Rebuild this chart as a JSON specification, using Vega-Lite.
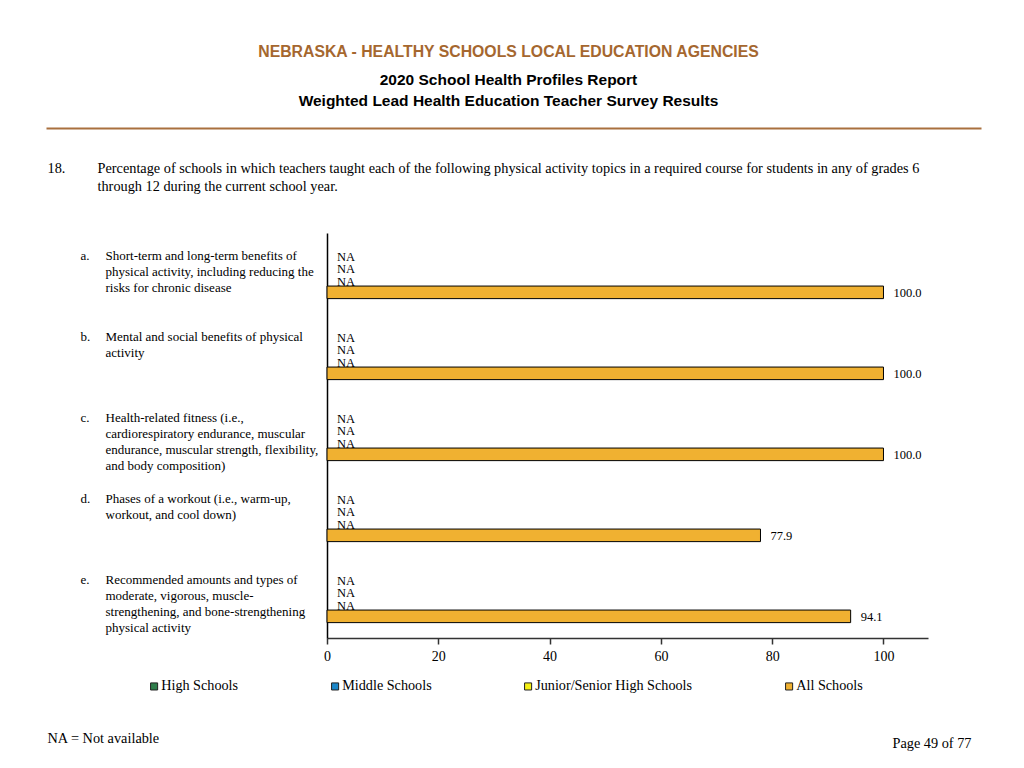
{
  "$schema": "https://vega.github.io/schema/vega-lite/v6.json",
  "autosize": "none",
  "width": 935,
  "height": 405,
  "padding": {"left": 46, "top": 233, "right": 43, "bottom": 130},
  "background": "white",
  "title": {
    "text": "NEBRASKA - HEALTHY SCHOOLS LOCAL EDUCATION AGENCIES",
    "subtitle": ["2020 School Health Profiles Report", "Weighted Lead Health Education Teacher Survey Results"],
    "anchor": "middle",
    "frame": "group",
    "dx": -5,
    "offset": 18,
    "font": "Liberation Sans",
    "fontSize": 15.8,
    "fontWeight": "bold",
    "color": "#A5672F",
    "subtitleFont": "Liberation Sans",
    "subtitleFontSize": 15.5,
    "subtitleFontWeight": "bold",
    "subtitleColor": "#000000",
    "subtitleLineHeight": 21,
    "subtitlePadding": 12
  },
  "data": {
    "values": [
      {"item": "a.", "group": "High Schools", "value": null, "label": "NA"},
      {"item": "a.", "group": "Middle Schools", "value": null, "label": "NA"},
      {"item": "a.", "group": "Junior/Senior High Schools", "value": null, "label": "NA"},
      {"item": "a.", "group": "All Schools", "value": 100.0, "label": "100.0"},
      {"item": "b.", "group": "High Schools", "value": null, "label": "NA"},
      {"item": "b.", "group": "Middle Schools", "value": null, "label": "NA"},
      {"item": "b.", "group": "Junior/Senior High Schools", "value": null, "label": "NA"},
      {"item": "b.", "group": "All Schools", "value": 100.0, "label": "100.0"},
      {"item": "c.", "group": "High Schools", "value": null, "label": "NA"},
      {"item": "c.", "group": "Middle Schools", "value": null, "label": "NA"},
      {"item": "c.", "group": "Junior/Senior High Schools", "value": null, "label": "NA"},
      {"item": "c.", "group": "All Schools", "value": 100.0, "label": "100.0"},
      {"item": "d.", "group": "High Schools", "value": null, "label": "NA"},
      {"item": "d.", "group": "Middle Schools", "value": null, "label": "NA"},
      {"item": "d.", "group": "Junior/Senior High Schools", "value": null, "label": "NA"},
      {"item": "d.", "group": "All Schools", "value": 77.9, "label": "77.9"},
      {"item": "e.", "group": "High Schools", "value": null, "label": "NA"},
      {"item": "e.", "group": "Middle Schools", "value": null, "label": "NA"},
      {"item": "e.", "group": "Junior/Senior High Schools", "value": null, "label": "NA"},
      {"item": "e.", "group": "All Schools", "value": 94.1, "label": "94.1"}
    ]
  },
  "layer": [
    {
      "layer": [
        {
          "mark": {"type": "bar", "stroke": "#000000", "strokeWidth": 1},
          "encoding": {
            "y": {
              "field": "item",
              "type": "nominal",
              "scale": {"paddingInner": 0.38, "paddingOuter": 0.19},
              "axis": {
                "orient": "left",
                "offset": -281,
                "domainColor": "#000000",
                "domainWidth": 1.5,
                "ticks": false,
                "tickSize": 0,
                "labelPadding": 222,
                "labelAlign": "left",
                "labelBaseline": "top",
                "labelOffset": -24,
                "labelFont": "Liberation Serif",
                "labelFontSize": 13,
                "labelColor": "#000000",
                "labelLineHeight": 16,
                "labelLimit": 0,
                "labelExpr": "datum.value == 'a.' ? ['Short-term and long-term benefits of', 'physical activity, including reducing the', 'risks for chronic disease'] : datum.value == 'b.' ? ['Mental and social benefits of physical', 'activity'] : datum.value == 'c.' ? ['Health-related fitness (i.e.,', 'cardiorespiratory endurance, muscular', 'endurance, muscular strength, flexibility,', 'and body composition)'] : datum.value == 'd.' ? ['Phases of a workout (i.e., warm-up,', 'workout, and cool down)'] : ['Recommended amounts and types of', 'moderate, vigorous, muscle-', 'strengthening, and bone-strengthening', 'physical activity']",
                "title": "Page 49 of 77",
                "titleX": 644,
                "titleY": 510,
                "titleAngle": 0,
                "titleAlign": "right",
                "titleBaseline": "middle",
                "titleFont": "Liberation Serif",
                "titleFontSize": 14.3,
                "titleFontWeight": "normal",
                "titleColor": "#000000"
              }
            },
            "yOffset": {
              "field": "group",
              "type": "nominal",
              "sort": ["High Schools", "Middle Schools", "Junior/Senior High Schools", "All Schools"],
              "scale": {"paddingInner": 0, "paddingOuter": 0}
            },
            "x": {
              "field": "value",
              "type": "quantitative",
              "scale": {"domain": [0, 108], "range": [281, 882], "nice": false, "zero": true},
              "axis": {
                "orient": "bottom",
                "values": [0, 20, 40, 60, 80, 100],
                "grid": false,
                "domainColor": "#333333",
                "domainWidth": 1.5,
                "tickColor": "#333333",
                "tickSize": 6,
                "tickWidth": 1.5,
                "labelFlush": false,
                "labelFont": "Liberation Serif",
                "labelFontSize": 14,
                "labelColor": "#000000",
                "labelPadding": 5,
                "title": "NA = Not available",
                "titleX": 1,
                "titleY": 100,
                "titleAlign": "left",
                "titleBaseline": "middle",
                "titleFont": "Liberation Serif",
                "titleFontSize": 14.3,
                "titleFontWeight": "normal",
                "titleColor": "#000000"
              }
            },
            "color": {
              "field": "group",
              "type": "nominal",
              "scale": {
                "domain": ["High Schools", "Middle Schools", "Junior/Senior High Schools", "All Schools"],
                "range": ["#2E7D4A", "#1B87C9", "#F5F014", "#F0B131"]
              },
              "legend": {
                "orient": "none",
                "legendX": 101,
                "legendY": 446,
                "direction": "horizontal",
                "columns": 4,
                "title": null,
                "symbolType": "square",
                "symbolSize": 50,
                "symbolStrokeColor": "#222222",
                "symbolStrokeWidth": 1,
                "labelFont": "Liberation Serif",
                "labelFontSize": 14.2,
                "labelColor": "#000000",
                "labelOffset": 0,
                "labelLimit": 0,
                "columnPadding": 89
              }
            }
          }
        },
        {
          "transform": [{"filter": "datum.value == null"}],
          "mark": {"type": "text", "align": "left", "baseline": "middle", "dx": 10, "dy": 2, "font": "Liberation Serif", "fontSize": 12.5, "color": "#000000"},
          "encoding": {
            "y": {
              "field": "item",
              "type": "nominal",
              "axis": {
                "orient": "left",
                "offset": -281,
                "domain": false,
                "ticks": false,
                "tickSize": 0,
                "labelPadding": 247,
                "labelAlign": "left",
                "labelBaseline": "top",
                "labelOffset": -24,
                "labelFont": "Liberation Serif",
                "labelFontSize": 13,
                "labelColor": "#000000",
                "title": "18.",
                "titleX": -280,
                "titleY": -71.5,
                "titleAngle": 0,
                "titleAlign": "left",
                "titleBaseline": "top",
                "titleFont": "Liberation Serif",
                "titleFontSize": 14.3,
                "titleFontWeight": "normal",
                "titleColor": "#000000"
              }
            },
            "yOffset": {
              "field": "group",
              "type": "nominal",
              "sort": ["High Schools", "Middle Schools", "Junior/Senior High Schools", "All Schools"]
            },
            "x": {"datum": 0},
            "text": {"field": "label"}
          }
        },
        {
          "transform": [{"filter": "datum.value != null"}],
          "mark": {"type": "text", "align": "left", "baseline": "middle", "dx": 10, "dy": 1, "font": "Liberation Serif", "fontSize": 12.5, "color": "#000000"},
          "encoding": {
            "y": {"field": "item", "type": "nominal", "axis": null},
            "yOffset": {
              "field": "group",
              "type": "nominal",
              "sort": ["High Schools", "Middle Schools", "Junior/Senior High Schools", "All Schools"]
            },
            "x": {"field": "value", "type": "quantitative"},
            "text": {"field": "label"}
          }
        }
      ],
      "resolve": {"axis": {"y": "independent"}}
    },
    {
      "mark": {"type": "point", "opacity": 0},
      "encoding": {
        "x": {
          "field": "value",
          "type": "quantitative",
          "axis": {
            "orient": "top",
            "offset": 105,
            "domainColor": "#A9703F",
            "domainWidth": 2,
            "ticks": false,
            "labels": false,
            "grid": false,
            "title": ["Percentage of schools in which teachers taught each of the following physical activity topics in a required course for students in any of grades 6", "through 12 during the current school year."],
            "titleX": 51,
            "titleY": 33.5,
            "titleAngle": 0,
            "titleAlign": "left",
            "titleBaseline": "top",
            "titleFont": "Liberation Serif",
            "titleFontSize": 14.3,
            "titleFontWeight": "normal",
            "titleLineHeight": 18,
            "titleColor": "#000000",
            "titleLimit": 0
          }
        }
      }
    }
  ],
  "resolve": {"scale": {"x": "independent"}},
  "config": {"view": {"stroke": null}}
}
